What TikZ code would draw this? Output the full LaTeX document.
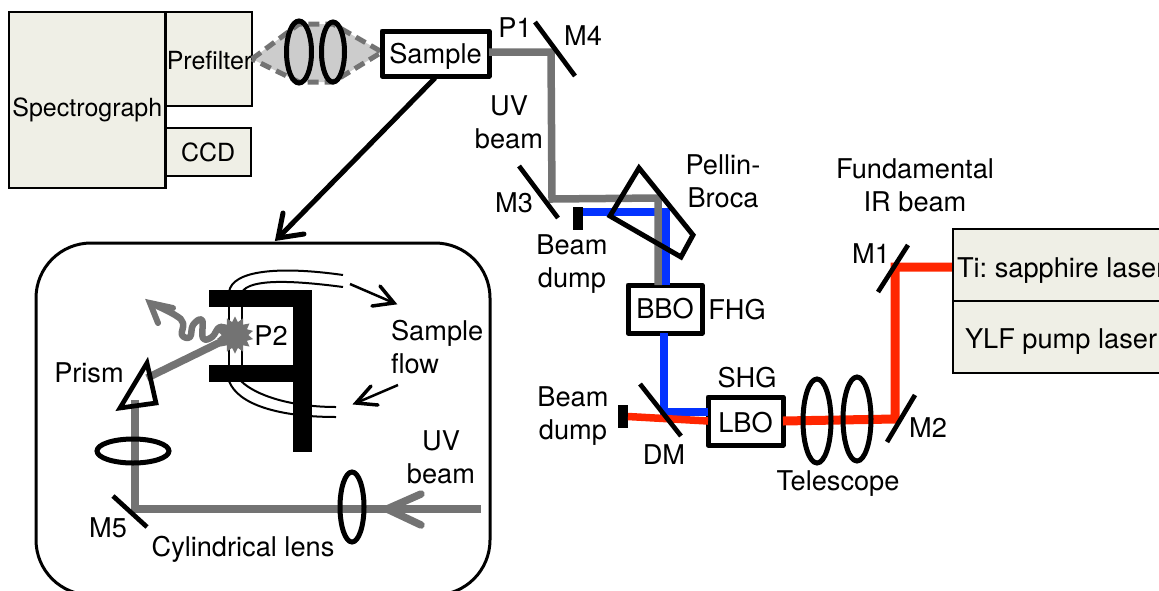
\documentclass[tikz,border=0pt]{standalone}
\usepackage{fontspec}
\setmainfont{TeX Gyre Heros}
\usetikzlibrary{shapes.geometric}
\definecolor{boxfill}{HTML}{EFEFE6}
\definecolor{beamgray}{HTML}{737373}
\definecolor{beamred}{HTML}{FF2600}
\definecolor{beamblue}{HTML}{0433FF}
\tikzset{
  txt/.style={inner sep=0pt,outer sep=0pt,font=\fontsize{27.2}{33}\selectfont\frenchspacing,align=center,text=black},
  smalltxt/.style={txt,font=\fontsize{25}{33}\selectfont},
  instr/.style={draw=black,fill=boxfill,line width=2.5pt,inner sep=0pt,outer sep=0pt,smalltxt},
  crystal/.style={draw=black,fill=white,line width=5pt,inner sep=0pt,outer sep=0pt,txt,line join=round},
  optic/.style={draw=black,line width=4.7pt},
  lens/.style={draw=black,line width=5pt,ellipse,inner sep=0pt,outer sep=0pt},
  grayb/.style={draw=beamgray,line width=7.5pt,line join=miter},
  blueb/.style={draw=beamblue,line width=7.5pt},
  redb/.style={draw=beamred,line width=7.5pt},
  dump/.style={fill=black,draw=none,inner sep=0pt,outer sep=0pt,minimum width=10pt,minimum height=23pt},
  bar/.style={fill=black,draw=none},
  flowline/.style={draw=black,line width=2pt},
}
\begin{document}
\begin{tikzpicture}[x=1pt,y=-1pt]
\useasboundingbox (0,0) rectangle (1159,590);
\clip (0,0) rectangle (1159,590);
% coordinates
\coordinate (p1c) at (551,52);
\coordinate (m3c) at (552,199);
\coordinate (pbg) at (658,198);
\coordinate (pbb) at (666,212);
\coordinate (dmb) at (664,412);
\coordinate (m2c) at (895,419);
\coordinate (m1c) at (895,267);
\coordinate (uvtail) at (481,509);
\coordinate (uvtip) at (387,509);
\coordinate (m5c) at (135,509);
\coordinate (pc) at (135,400);
\coordinate (pu) at (147,378);
% top-left instruments
\node[instr,minimum width=86.5pt,minimum height=94pt] (prefilter) at (208.7,59) {};
\node[instr,minimum width=85.5pt,minimum height=48pt] (ccd) at (208.2,152) {CCD};
\node[instr,minimum width=156.5pt,minimum height=176pt] (spec) at (87.3,100) {};
\node[smalltxt] (spectxt) at (87.3,110) {Spectrograph};
\node[smalltxt] (preftxt) at (209.5,61) {Prefilter};
% collection cone
\node[inner sep=0pt,outer sep=0pt,minimum size=0pt] (samplepoint) at (382,52) {};
\draw[fill=black!20,draw=beamgray,line width=5pt,dash pattern=on 11pt off 6pt]
  (prefilter.east) -- (299,24) -- (333,24) -- (samplepoint.center) -- (333,82) -- (299,82) -- cycle;
\node[lens,minimum width=25pt,minimum height=62pt] (l1) at (299,52) {};
\node[lens,minimum width=23pt,minimum height=60pt] (l2) at (333,52) {};
% UV path
\node[crystal,minimum width=107pt,minimum height=45pt] (sample) at (435.5,53.5) {\raisebox{-9.5pt}[0pt][0pt]{Sample}};
\node[crystal,minimum width=74pt,minimum height=48pt] (bbo) at (665,309) {\raisebox{-9.5pt}[0pt][0pt]{BBO}};
\node[crystal,minimum width=75pt,minimum height=48pt] (lbo) at (745.5,421) {\raisebox{-11.5pt}[0pt][0pt]{LBO}};
\node[dump] (dump1) at (578,218.5) {};
\node[dump] (dump2) at (623,416.5) {};
\path[blueb] (dump1.east |- pbb) -- (pbb) -- (pbb |- bbo.north);
\path[grayb] (sample.east |- p1c) -- (p1c) -- (m3c) -- (pbg) -- (pbg |- bbo.north);
\path[blueb] (dmb |- bbo.south) -- (dmb) -- (dmb -| lbo.west);
\path[redb] (dump2.east) -- (lbo.west);
\path[redb,line width=9pt] (lbo.east) -- (m2c) -- (m1c) -- (952,267);
% mirrors
\draw[optic] (535,22) -- (575,76);
\draw[optic] (519,166) -- (558,218);
\draw[optic] (640,384) -- (681,436);
\draw[optic] (908,245) -- (878,292);
\draw[optic] (915,395) -- (887,442);
% Pellin-Broca prism
\draw[optic,line width=5pt,line join=miter] (639,168) -- (693,235) -- (681,257) -- (610,216) -- cycle;
% telescope
\node[lens,minimum width=28pt,minimum height=84pt] (t1) at (817,421) {};
\node[lens,minimum width=28pt,minimum height=84pt] (t2) at (857,419) {};
% laser
\node[instr,minimum width=260pt,minimum height=72pt] (ti) at (1083,265) {};
\node[instr,minimum width=260pt,minimum height=72pt] (ylf) at (1083,337) {};
\node[txt,anchor=west] (titxt) at (957,271) {Ti: sapphire laser};
\node[txt,anchor=west] (ylftxt) at (965,342) {YLF pump laser};
% arrow sample -> inset
\coordinate (insettip) at (278,238);
\draw[black,line width=5pt] (435,78) -- (insettip);
\draw[black,line width=5pt,line cap=round,line join=miter] (283,213) -- (insettip) -- (304,234);
% inset
\node[draw=black,line width=3pt,fill=none,rounded corners=55pt,minimum width=454pt,minimum height=352pt,inner sep=0pt,outer sep=0pt] (inset) at (263,419) {};
% flow tubes
\draw[flowline] (229,292) .. controls (232,270) and (280,266) .. (343,275);
\draw[flowline] (242,292) .. controls (250,279) and (290,280) .. (343,287);
\draw[flowline] (229,381) .. controls (238,405) and (280,417) .. (336,417);
\draw[flowline] (241,381) .. controls (255,395) and (290,407) .. (336,407);
\draw[flowline] (229,305) -- (229,367);
\draw[flowline] (242,305) -- (242,367);
\fill[bar] (209,290) rectangle (312,307);
\fill[bar] (209,365) rectangle (312,382);
\fill[bar] (293,290) rectangle (312,452);
% flow arrows
\draw[black,line width=2.5pt] (350,284) -- (394,303);
\draw[black,line width=3.5pt,line cap=round] (380,286) -- (394,303) -- (372,306);
\draw[black,line width=2.5pt] (398,385) -- (356,403);
\draw[black,line width=3.5pt,line cap=round] (371,386) -- (356,403) -- (378,405);
% inset beam
\node[star,star points=14,star point ratio=1.4,fill=beamgray,inner sep=0pt,minimum size=37pt,draw=none] (spot) at (235,335) {};
\path[grayb] (uvtail) -- (m5c) -- (pc);
\draw[beamgray,line width=7.5pt] (pu) -- (spot.center);
\draw[beamgray,line width=6.5pt,line cap=round,line join=round] plot[smooth,tension=0.7] coordinates {(230,332) (220,327) (212,337) (203,338) (202,320) (193,325) (190,337) (182,335) (183,323) (175,315) (153,304)};
\draw[beamgray,line width=6pt,line cap=round,line join=miter] (173,308) -- (150,303) -- (158,323);
\draw[beamgray,line width=7.5pt,line cap=round,line join=miter] (421,494) -- (uvtip) -- (421,525);
\draw[optic,line join=miter] (147,363) -- (156,403) -- (120,408) -- cycle;
\node[lens,minimum width=72pt,minimum height=24pt] (l3) at (133,451) {};
\node[lens,minimum width=24pt,minimum height=70pt] (l4) at (352,507) {};
\draw[optic] (113,496) -- (147,527);
% labels
\node[txt] (tp1) at (515,28) {P1};
\node[txt] (tm4) at (583,36) {M4};
\node[txt] (tuv) at (509,122) {UV\\beam};
\node[txt] (tm3) at (514,203) {M3};
\node[txt] (tbd1) at (572,264) {Beam\\dump};
\node[txt] (tbd2) at (573,416) {Beam\\dump};
\node[txt] (tpb) at (723,181) {Pellin-\\Broca};
\node[txt] (tfhg) at (737,310) {FHG};
\node[txt] (tshg) at (747,378) {SHG};
\node[txt] (tdm) at (664,455) {DM};
\node[txt] (ttel) at (838,484) {Telescope};
\node[txt] (tm1) at (871,254) {M1};
\node[txt] (tm2) at (928,428) {M2};
\node[txt] (tfund) at (915,185) {Fundamental\\IR beam};
\node[txt] (tp2) at (271,336) {P2};
\node[txt] (tprism) at (89,373) {Prism};
\node[txt] (tm5) at (108,528) {M5};
\node[txt] (tcyl) at (243,549) {Cylindrical lens};
\node[txt,align=left,anchor=west] (tflow) at (391,347) {Sample\\flow};
\node[txt] (tuv2) at (441,457) {UV\\beam};
\end{tikzpicture}
\end{document}
